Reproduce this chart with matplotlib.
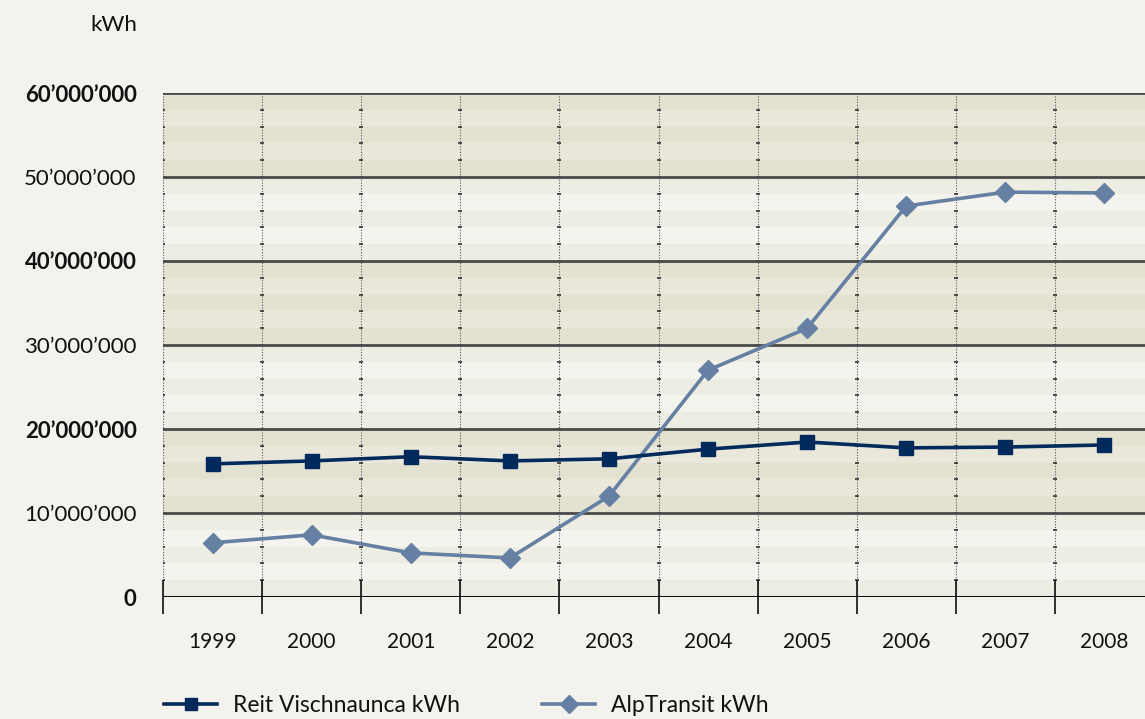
import numpy as np
import matplotlib.pyplot as plt
from matplotlib.lines import Line2D

plt.rcParams['font.family'] = ['Lato', 'DejaVu Sans']

# data (kWh per year)
years = ['1999', '2000', '2001', '2002', '2003', '2004', '2005', '2006', '2007', '2008']
reit = [15.85e6, 16.2e6, 16.7e6, 16.2e6, 16.45e6, 17.6e6, 18.45e6, 17.75e6, 17.85e6, 18.1e6]
alp = [6.45e6, 7.4e6, 5.25e6, 4.65e6, 12.0e6, 27.0e6, 32.0e6, 46.55e6, 48.2e6, 48.1e6]
ytick_vals = [0, 10e6, 20e6, 30e6, 40e6, 50e6, 60e6]
ytick_text = ['0', '10’000’000', '20’000’000', '30’000’000',
              '40’000’000', '50’000’000', '60’000’000']
bold_ticks = [True, False, True, False, True, False, True]

navy = '#002a5c'
steel = '#6580a3'
bg = '#f3f2ec'

fig = plt.figure(figsize=(11.45, 7.19), dpi=100, facecolor=bg)
ax = fig.add_axes([163 / 1145, 122 / 719, 991 / 1145, 504 / 719])
ax.set_facecolor(bg)

x = np.arange(len(years))
ax.set_xlim(-0.5, len(years) - 0.5)
ax.set_ylim(0, 60e6)

# striped background: 10M blocks alternate dark/light, 2M stripes inside
step = 2e6
for y0 in np.arange(0, 60e6, step):
    block = int(y0 // 10e6)
    sub = int(round((y0 % 10e6) / step))
    if block % 2 == 1:
        col = '#e3e1d0' if sub % 2 == 0 else '#e9e7da'
    else:
        col = '#eeede3' if sub % 2 == 0 else '#f4f3ed'
    ax.axhspan(y0, y0 + step, color=col, lw=0, zorder=0)

# vertical dotted separators with small dashes every 2M
bounds = np.arange(-0.5, len(years), 1.0)
for b in bounds:
    ax.axvline(b, color='#555555', lw=0.8, ls=(0, (1, 1.5)), zorder=1)
yy = np.arange(step, 60e6, step)
bx, by = np.meshgrid(bounds, yy)
ax.plot(bx.ravel(), by.ravel(), ls='none', marker='_', ms=3, mew=1.2,
        color='#333333', zorder=1)

# major horizontal lines
for v in ytick_vals[1:]:
    ax.axhline(v, color='#4a4a4a', lw=2, zorder=1.5)
ax.axhline(0, color='#111111', lw=1.5, zorder=2)

ax.plot(x, reit, color=navy, lw=2.6, marker='s', ms=10, zorder=4,
        label='Reit Vischnaunca kWh')
ax.plot(x, alp, color=steel, lw=2.6, marker='D', ms=10, zorder=3,
        label='AlpTransit kWh')

for s in ax.spines.values():
    s.set_visible(False)

ax.set_xticks(x)
ax.set_xticklabels(years, fontsize=15)
ax.set_xticks(bounds, minor=True)
ax.tick_params(axis='x', which='major', length=0, pad=25, colors='#111111')
ax.tick_params(axis='x', which='minor', direction='inout', length=24,
               width=1.2, color='#111111')

ax.set_yticks(ytick_vals)
ax.set_yticklabels(ytick_text, fontsize=16)
ax.tick_params(axis='y', length=0, pad=19, colors='#111111')
for lab, b in zip(ax.get_yticklabels(), bold_ticks):
    if b:
        lab.set_fontweight('bold')

fig.text(137 / 1145, 1 - 25 / 719, 'kWh', ha='right', va='center',
         fontsize=16, color='#111111')

handles = [Line2D([], [], color=navy, lw=2.6, marker='s', ms=9),
           Line2D([], [], color=steel, lw=2.6, marker='D', ms=9)]
fig.legend(handles, ['Reit Vischnaunca kWh', 'AlpTransit kWh'],
           loc='center left', bbox_to_anchor=(155 / 1145, 13 / 719),
           ncol=2, frameon=False, fontsize=16.5, handlelength=2.3,
           handletextpad=0.7, columnspacing=3.6, borderaxespad=0,
           labelcolor='#111111')

fig.savefig('out.png', dpi=100, facecolor=bg)
